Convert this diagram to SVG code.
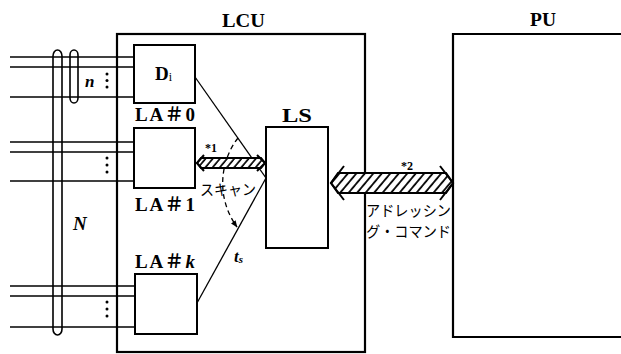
<svg xmlns="http://www.w3.org/2000/svg" width="621" height="354" viewBox="0 0 621 354">
<style>
.box{fill:#fff;stroke:#000;stroke-width:2}
.frame{fill:none;stroke:#000;stroke-width:2.2}
.ln{fill:none;stroke:#000;stroke-width:1.6}
.thin{fill:none;stroke:#000;stroke-width:1.3}
.loop{fill:none;stroke:#000;stroke-width:1.6}
.lbl{font-family:"Liberation Serif","Noto Sans CJK JP",serif;font-weight:bold;font-size:19px;fill:#000}
.it{font-family:"Liberation Serif",serif;font-weight:bold;font-style:italic;fill:#000}
.jp{font-family:"Noto Sans CJK JP",sans-serif;font-size:15px;fill:#000}
.star{font-family:"Liberation Serif",serif;font-weight:bold;font-size:12px;fill:#000}
.hatch{fill:url(#h);stroke:#000;stroke-width:2}
.hatch2{fill:url(#h2);stroke:#000;stroke-width:2}
.dot{fill:#000}
</style>
<defs>
<pattern id="h" patternUnits="userSpaceOnUse" width="5.5" height="5.5" patternTransform="rotate(40)">
<rect width="5.5" height="5.5" fill="#fff"/><line x1="1" y1="0" x2="1" y2="5.5" stroke="#000" stroke-width="1.7"/>
</pattern>
<pattern id="h2" patternUnits="userSpaceOnUse" width="6.5" height="6.5" patternTransform="rotate(40)">
<rect width="6.5" height="6.5" fill="#fff"/><line x1="1" y1="0" x2="1" y2="6.5" stroke="#000" stroke-width="1.8"/>
</pattern>
<marker id="ah" viewBox="0 0 10 10" refX="9" refY="5" markerWidth="7" markerHeight="7" orient="auto" markerUnits="userSpaceOnUse">
<path d="M0,1 L10,5 L0,9 Z" fill="#000"/>
</marker>
</defs>
<rect width="621" height="354" fill="#fff"/>

<g id="lines">
<line class="ln" x1="10" y1="57" x2="134" y2="57"/>
<line class="ln" x1="10" y1="67" x2="134" y2="67"/>
<line class="ln" x1="10" y1="97" x2="134" y2="97"/>
<line class="ln" x1="10" y1="142" x2="134" y2="142"/>
<line class="ln" x1="10" y1="152" x2="134" y2="152"/>
<line class="ln" x1="10" y1="181" x2="134" y2="181"/>
<line class="ln" x1="10" y1="286" x2="135" y2="286"/>
<line class="ln" x1="10" y1="296" x2="135" y2="296"/>
<line class="ln" x1="10" y1="327" x2="135" y2="327"/>
</g>

<g id="bundle-n">
<rect class="loop" x="70" y="50" width="8" height="53" rx="4" ry="5"/>
<text class="it" x="85" y="87" font-size="17">n</text>
</g>
<g id="bundle-N">
<rect class="loop" x="53" y="50" width="9" height="285" rx="4.5" ry="6"/>
<text class="it" x="73" y="230" font-size="19">N</text>
</g>
<g id="dots">
<circle class="dot" cx="107" cy="74" r="1.5"/><circle class="dot" cx="107" cy="80.5" r="1.5"/><circle class="dot" cx="107" cy="87" r="1.5"/>
<circle class="dot" cx="107" cy="158" r="1.5"/><circle class="dot" cx="107" cy="165" r="1.5"/><circle class="dot" cx="107" cy="172" r="1.5"/>
<circle class="dot" cx="107" cy="302" r="1.5"/><circle class="dot" cx="107" cy="309" r="1.5"/><circle class="dot" cx="107" cy="316" r="1.5"/>
</g>

<g id="LCU">
<rect class="frame" x="117" y="34" width="248" height="318"/>
<text class="lbl" x="222" y="27" textLength="43" lengthAdjust="spacingAndGlyphs">LCU</text>
</g>
<g id="PU">
<path class="frame" d="M625,34 L453,34 L453,337 L625,337"/>
<text class="lbl" x="530" y="26" textLength="26" lengthAdjust="spacingAndGlyphs">PU</text>
</g>

<g id="connectors">
<line class="thin" x1="195" y1="77" x2="266" y2="178"/>
<line class="thin" x1="197" y1="303" x2="266" y2="178"/>
<path d="M238,138 C222,158 214,195 237,227" fill="none" stroke="#000" stroke-width="1.3" stroke-dasharray="5,3.5" marker-end="url(#ah)"/>
<path class="hatch" d="M197,163 L201,158 L261,158 L265,163 L261,168 L201,168 Z"/>
<path fill="none" stroke="#000" stroke-width="2" d="M204,155 L197,163 L204,171 M257,155 L265,163 L257,171"/>
<path class="hatch2" d="M331,183 L338,173 L446,173 L453,183 L446,193 L338,193 Z"/>
<path fill="none" stroke="#000" stroke-width="2" d="M344,166 L331,183 L344,200 M440,166 L453,183 L440,200"/>
<text class="star" x="205" y="152">*1</text>
<text class="star" x="401" y="170">*2</text>
<text class="jp" x="200" y="195" textLength="56" lengthAdjust="spacingAndGlyphs">スキャン</text>
<text class="jp" x="366" y="216" textLength="85" lengthAdjust="spacingAndGlyphs">アドレッシン</text>
<text class="jp" x="366" y="237" textLength="85" lengthAdjust="spacingAndGlyphs">グ・コマンド</text>
<text class="it" x="234" y="262" font-size="17">t<tspan font-size="11" dy="1">s</tspan></text>
</g>

<g id="LA0">
<rect class="box" x="134" y="45" width="61" height="58"/>
<text class="lbl" x="155" y="80">D<tspan font-size="12" font-weight="normal" dy="1">i</tspan></text>
<text class="lbl" x="135" y="121" textLength="60" lengthAdjust="spacing">LA＃0</text>
</g>
<g id="LA1">
<rect class="box" x="134" y="128" width="61" height="60"/>
<text class="lbl" x="135" y="211" textLength="60" lengthAdjust="spacing">LA＃1</text>
</g>
<g id="LAk">
<rect class="box" x="135" y="274" width="62" height="60"/>
<text class="lbl" x="135" y="268" textLength="60" lengthAdjust="spacing">LA＃<tspan font-style="italic">k</tspan></text>
</g>
<g id="LS">
<rect class="box" x="266" y="127" width="62" height="121"/>
<text class="lbl" x="282" y="122" textLength="30" lengthAdjust="spacingAndGlyphs">LS</text>
</g>
</svg>
